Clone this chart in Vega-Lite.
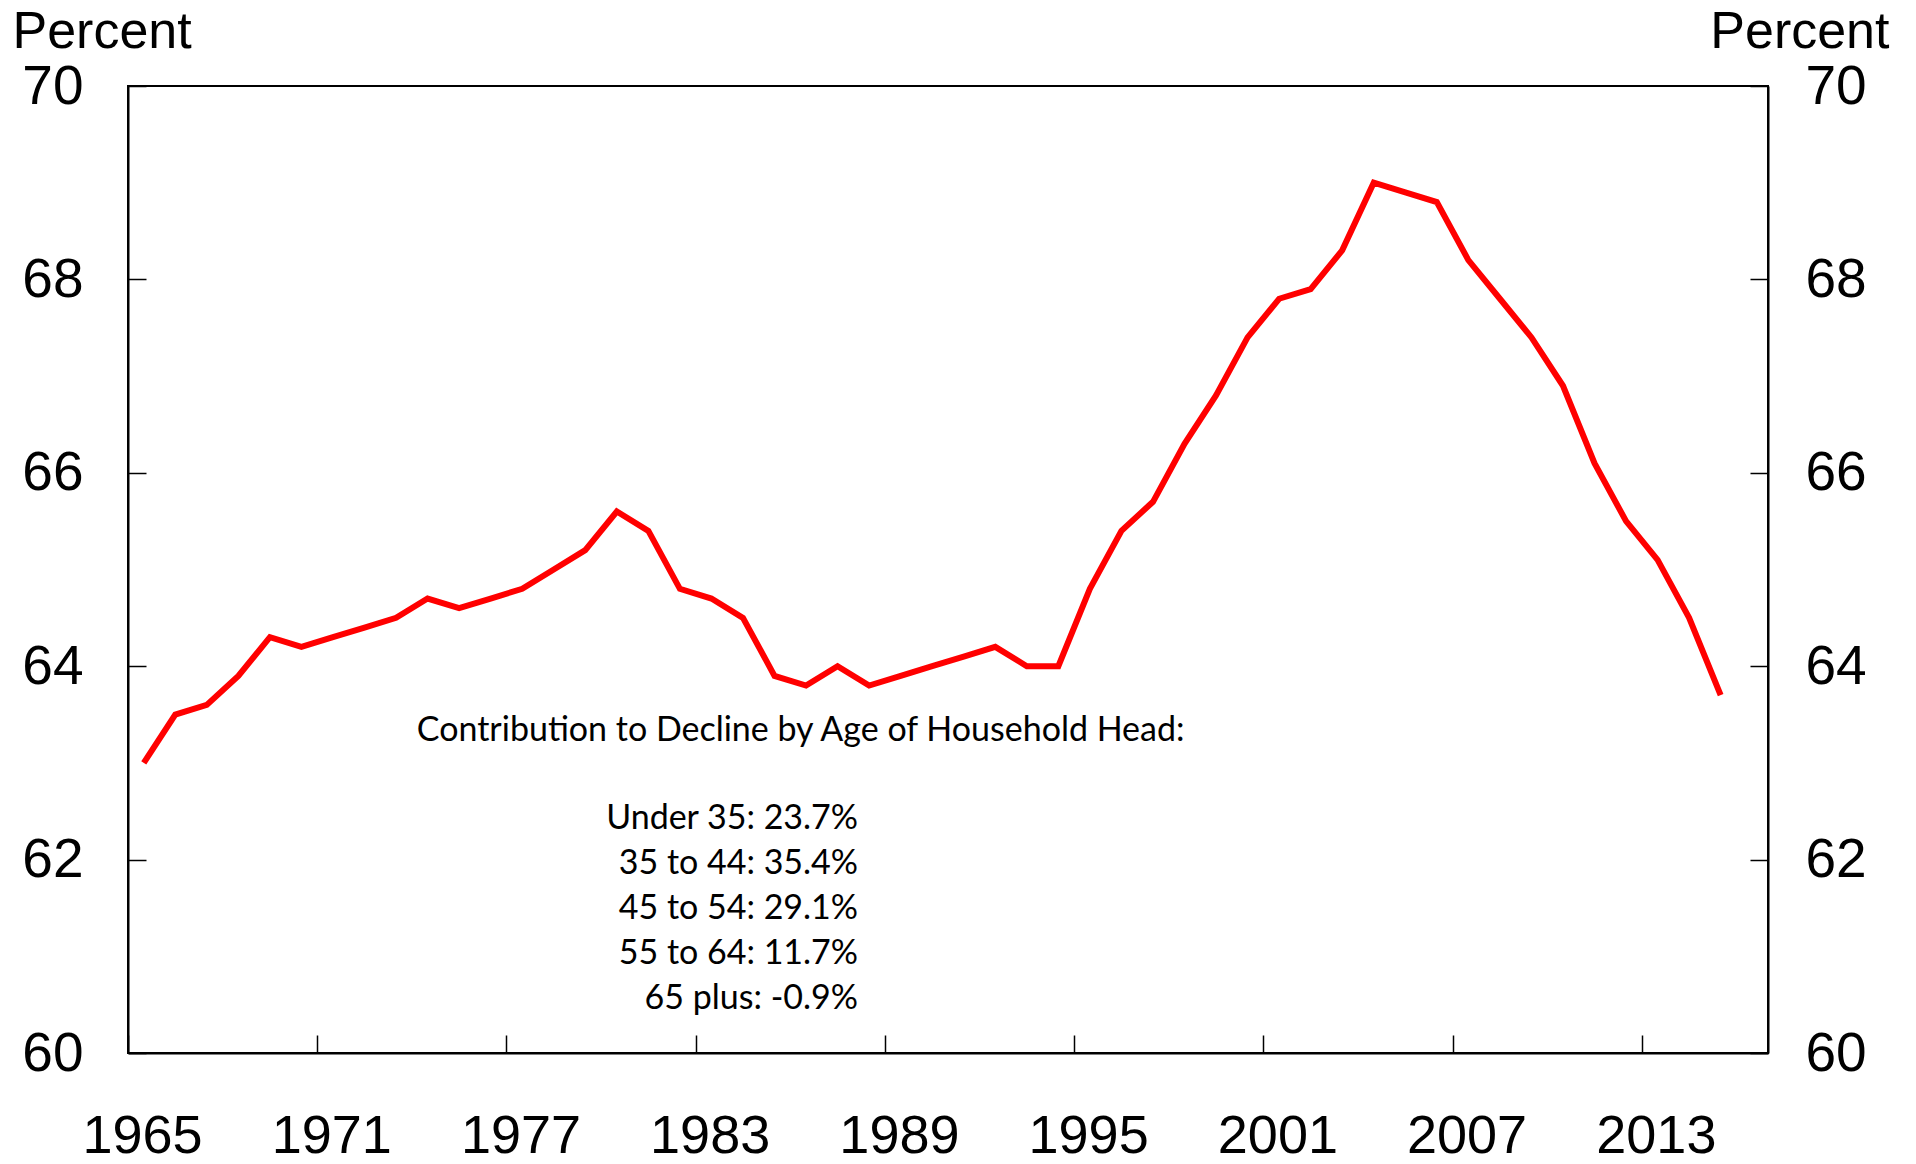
{
  "$schema": "https://vega.github.io/schema/vega-lite/v6.json",
  "width": 1640,
  "height": 967,
  "autosize": "none",
  "padding": {"left": 128, "top": 86, "right": 148, "bottom": 111},
  "background": "white",
  "config": {
    "view": {"stroke": "black", "strokeWidth": 2},
    "axis": {
      "grid": false,
      "domainColor": "black",
      "domainWidth": 2,
      "tickColor": "black",
      "tickWidth": 1.5,
      "labelFont": "Liberation Sans",
      "labelFontSize": 55,
      "labelColor": "black",
      "titleFont": "Liberation Sans",
      "titleFontSize": 52,
      "titleFontWeight": "normal",
      "titleColor": "black"
    }
  },
  "datasets": {
    "rates": [
      {"year": "1965", "rate": 63.0},
      {"year": "1966", "rate": 63.5},
      {"year": "1967", "rate": 63.6},
      {"year": "1968", "rate": 63.9},
      {"year": "1969", "rate": 64.3},
      {"year": "1970", "rate": 64.2},
      {"year": "1971", "rate": 64.3},
      {"year": "1972", "rate": 64.4},
      {"year": "1973", "rate": 64.5},
      {"year": "1974", "rate": 64.7},
      {"year": "1975", "rate": 64.6},
      {"year": "1976", "rate": 64.7},
      {"year": "1977", "rate": 64.8},
      {"year": "1978", "rate": 65.0},
      {"year": "1979", "rate": 65.2},
      {"year": "1980", "rate": 65.6},
      {"year": "1981", "rate": 65.4},
      {"year": "1982", "rate": 64.8},
      {"year": "1983", "rate": 64.7},
      {"year": "1984", "rate": 64.5},
      {"year": "1985", "rate": 63.9},
      {"year": "1986", "rate": 63.8},
      {"year": "1987", "rate": 64.0},
      {"year": "1988", "rate": 63.8},
      {"year": "1989", "rate": 63.9},
      {"year": "1990", "rate": 64.0},
      {"year": "1991", "rate": 64.1},
      {"year": "1992", "rate": 64.2},
      {"year": "1993", "rate": 64.0},
      {"year": "1994", "rate": 64.0},
      {"year": "1995", "rate": 64.8},
      {"year": "1996", "rate": 65.4},
      {"year": "1997", "rate": 65.7},
      {"year": "1998", "rate": 66.3},
      {"year": "1999", "rate": 66.8},
      {"year": "2000", "rate": 67.4},
      {"year": "2001", "rate": 67.8},
      {"year": "2002", "rate": 67.9},
      {"year": "2003", "rate": 68.3},
      {"year": "2004", "rate": 69.0},
      {"year": "2005", "rate": 68.9},
      {"year": "2006", "rate": 68.8},
      {"year": "2007", "rate": 68.2},
      {"year": "2008", "rate": 67.8},
      {"year": "2009", "rate": 67.4},
      {"year": "2010", "rate": 66.9},
      {"year": "2011", "rate": 66.1},
      {"year": "2012", "rate": 65.5},
      {"year": "2013", "rate": 65.1},
      {"year": "2014", "rate": 64.5},
      {"year": "2015", "rate": 63.7}
    ],
    "notes": [
      {"label": "Contribution to Decline by Age of Household Head:"}
    ]
  },
  "layer": [
    {
      "data": {"name": "rates"},
      "mark": {"type": "line", "color": "#ff0000", "strokeWidth": 6},
      "encoding": {
        "x": {
          "field": "year",
          "type": "temporal",
          "timeUnit": "utcyear",
          "bandPosition": 0.5,
          "title": null,
          "scale": {"domain": [{"year": 1965, "utc": true}, {"year": 2017, "utc": true}]},
          "axis": {
            "values": [
              {"year": 1965, "utc": true}, {"year": 1971, "utc": true}, {"year": 1977, "utc": true},
              {"year": 1983, "utc": true}, {"year": 1989, "utc": true}, {"year": 1995, "utc": true},
              {"year": 2001, "utc": true}, {"year": 2007, "utc": true}, {"year": 2013, "utc": true}
            ],
            "format": "%Y",
            "formatType": "utc",
            "tickSize": -18,
            "labelPadding": 74,
            "labelFontSize": 54,
            "labelOffset": 14,
            "labelFlush": false,
            "labelOverlap": false
          }
        },
        "y": {
          "field": "rate",
          "type": "quantitative",
          "scale": {"domain": [60, 70], "nice": false, "zero": false},
          "axis": {
            "orient": "left",
            "values": [60, 62, 64, 66, 68, 70],
            "tickSize": -18,
            "labelPadding": 63,
            "title": "Percent",
            "titleAngle": 0,
            "titleAlign": "left",
            "titleBaseline": "alphabetic",
            "titleX": -116,
            "titleY": -39
          }
        }
      }
    },
    {
      "data": {"name": "rates"},
      "mark": {"type": "line", "color": "#ff0000", "strokeWidth": 6, "opacity": 0},
      "encoding": {
        "x": {"field": "year", "type": "temporal", "timeUnit": "utcyear", "bandPosition": 0.5},
        "y": {
          "field": "rate",
          "type": "quantitative",
          "axis": {
            "orient": "right",
            "values": [60, 62, 64, 66, 68, 70],
            "tickSize": -18,
            "labelPadding": 55,
            "title": "Percent",
            "titleAngle": 0,
            "titleAlign": "right",
            "titleBaseline": "alphabetic",
            "titleX": 121,
            "titleY": -39
          }
        }
      }
    },
    {
      "data": {"name": "notes"},
      "mark": {
        "type": "text",
        "font": "Lato",
        "fontSize": 34,
        "align": "center",
        "baseline": "alphabetic",
        "color": "black"
      },
      "encoding": {
        "text": {"field": "label"},
        "x": {"datum": {"year": 1986, "month": 5, "date": 1, "utc": true}, "type": "temporal"},
        "y": {"datum": 63.23, "type": "quantitative", "axis": {"labels": false, "ticks": false, "domain": false, "title": null}}
      }
    },
    {
      "data": {"name": "notes"},
      "mark": {
        "type": "text",
        "text": ["Under 35: 23.7%", "35 to 44: 35.4%", "45 to 54: 29.1%", "55 to 64: 11.7%", "65 plus: -0.9%"],
        "font": "Lato",
        "fontSize": 34,
        "lineHeight": 45,
        "align": "right",
        "baseline": "alphabetic",
        "color": "black"
      },
      "encoding": {
        "x": {"datum": {"year": 1988, "month": 2, "date": 25, "utc": true}, "type": "temporal"},
        "y": {"datum": 62.32, "type": "quantitative", "axis": {"labels": false, "ticks": false, "domain": false, "title": null}}
      }
    }
  ],
  "resolve": {"axis": {"y": "independent"}}
}
